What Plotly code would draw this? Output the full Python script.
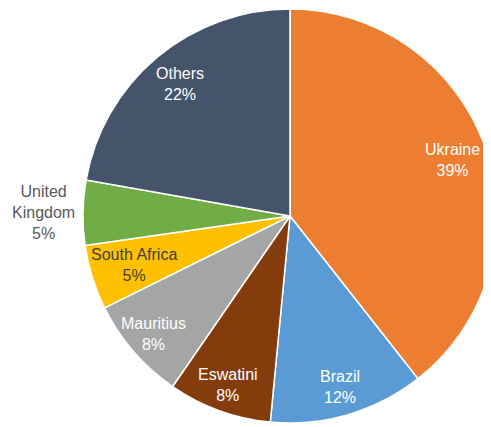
import math
import plotly.graph_objects as go

labels = ["Ukraine", "Brazil", "Eswatini", "Mauritius", "South Africa", "United<br>Kingdom", "Others"]
values = [39, 12, 8, 8, 5, 5, 22]
colors = ["#ED7D31", "#5B9BD5", "#843C0C", "#A5A5A5", "#FFC000", "#70AD47", "#44546A"]
text_colors = ["white", "white", "white", "white", "#404040", "#595959", "white"]

# label distance from centre, as a fraction of the radius (style only)
label_radius = [0.83, 0.86, 0.87, 0.87, 0.79, 1.19, 0.83]

W, H = 491, 427
dom_x = [0.1527, 0.9959]
dom_y = [0.0281, 0.9977]
FONT = "Liberation Sans, Arial, sans-serif"

fig = go.Figure(go.Pie(
    labels=labels,
    values=values,
    sort=False,
    direction="clockwise",
    rotation=0,
    marker=dict(colors=colors, line=dict(color="white", width=1.5)),
    textinfo="none",
    hoverinfo="label+value",
    showlegend=False,
    domain=dict(x=dom_x, y=dom_y),
))

# label placement derived from slice angles
cx = (dom_x[0] + dom_x[1]) / 2 * W
cy = (dom_y[0] + dom_y[1]) / 2 * H
r = min((dom_x[1] - dom_x[0]) * W, (dom_y[1] - dom_y[0]) * H) / 2
total = sum(values)
cum = 0
for lab, v, tc, frac in zip(labels, values, text_colors, label_radius):
    mid = (cum + v / 2) / total * 2 * math.pi
    cum += v
    px = cx + frac * r * math.sin(mid)
    py = cy + frac * r * math.cos(mid)
    fig.add_annotation(
        x=px / W, y=py / H, xref="paper", yref="paper",
        xanchor="center", yanchor="middle",
        text=f"{lab}<br>{v}%", showarrow=False,
        font=dict(family=FONT, size=16, color=tc),
        align="center",
    )

fig.update_layout(
    width=W, height=H,
    margin=dict(l=0, r=0, t=0, b=0),
    paper_bgcolor="white",
    plot_bgcolor="white",
)

fig.write_html("out.html")
